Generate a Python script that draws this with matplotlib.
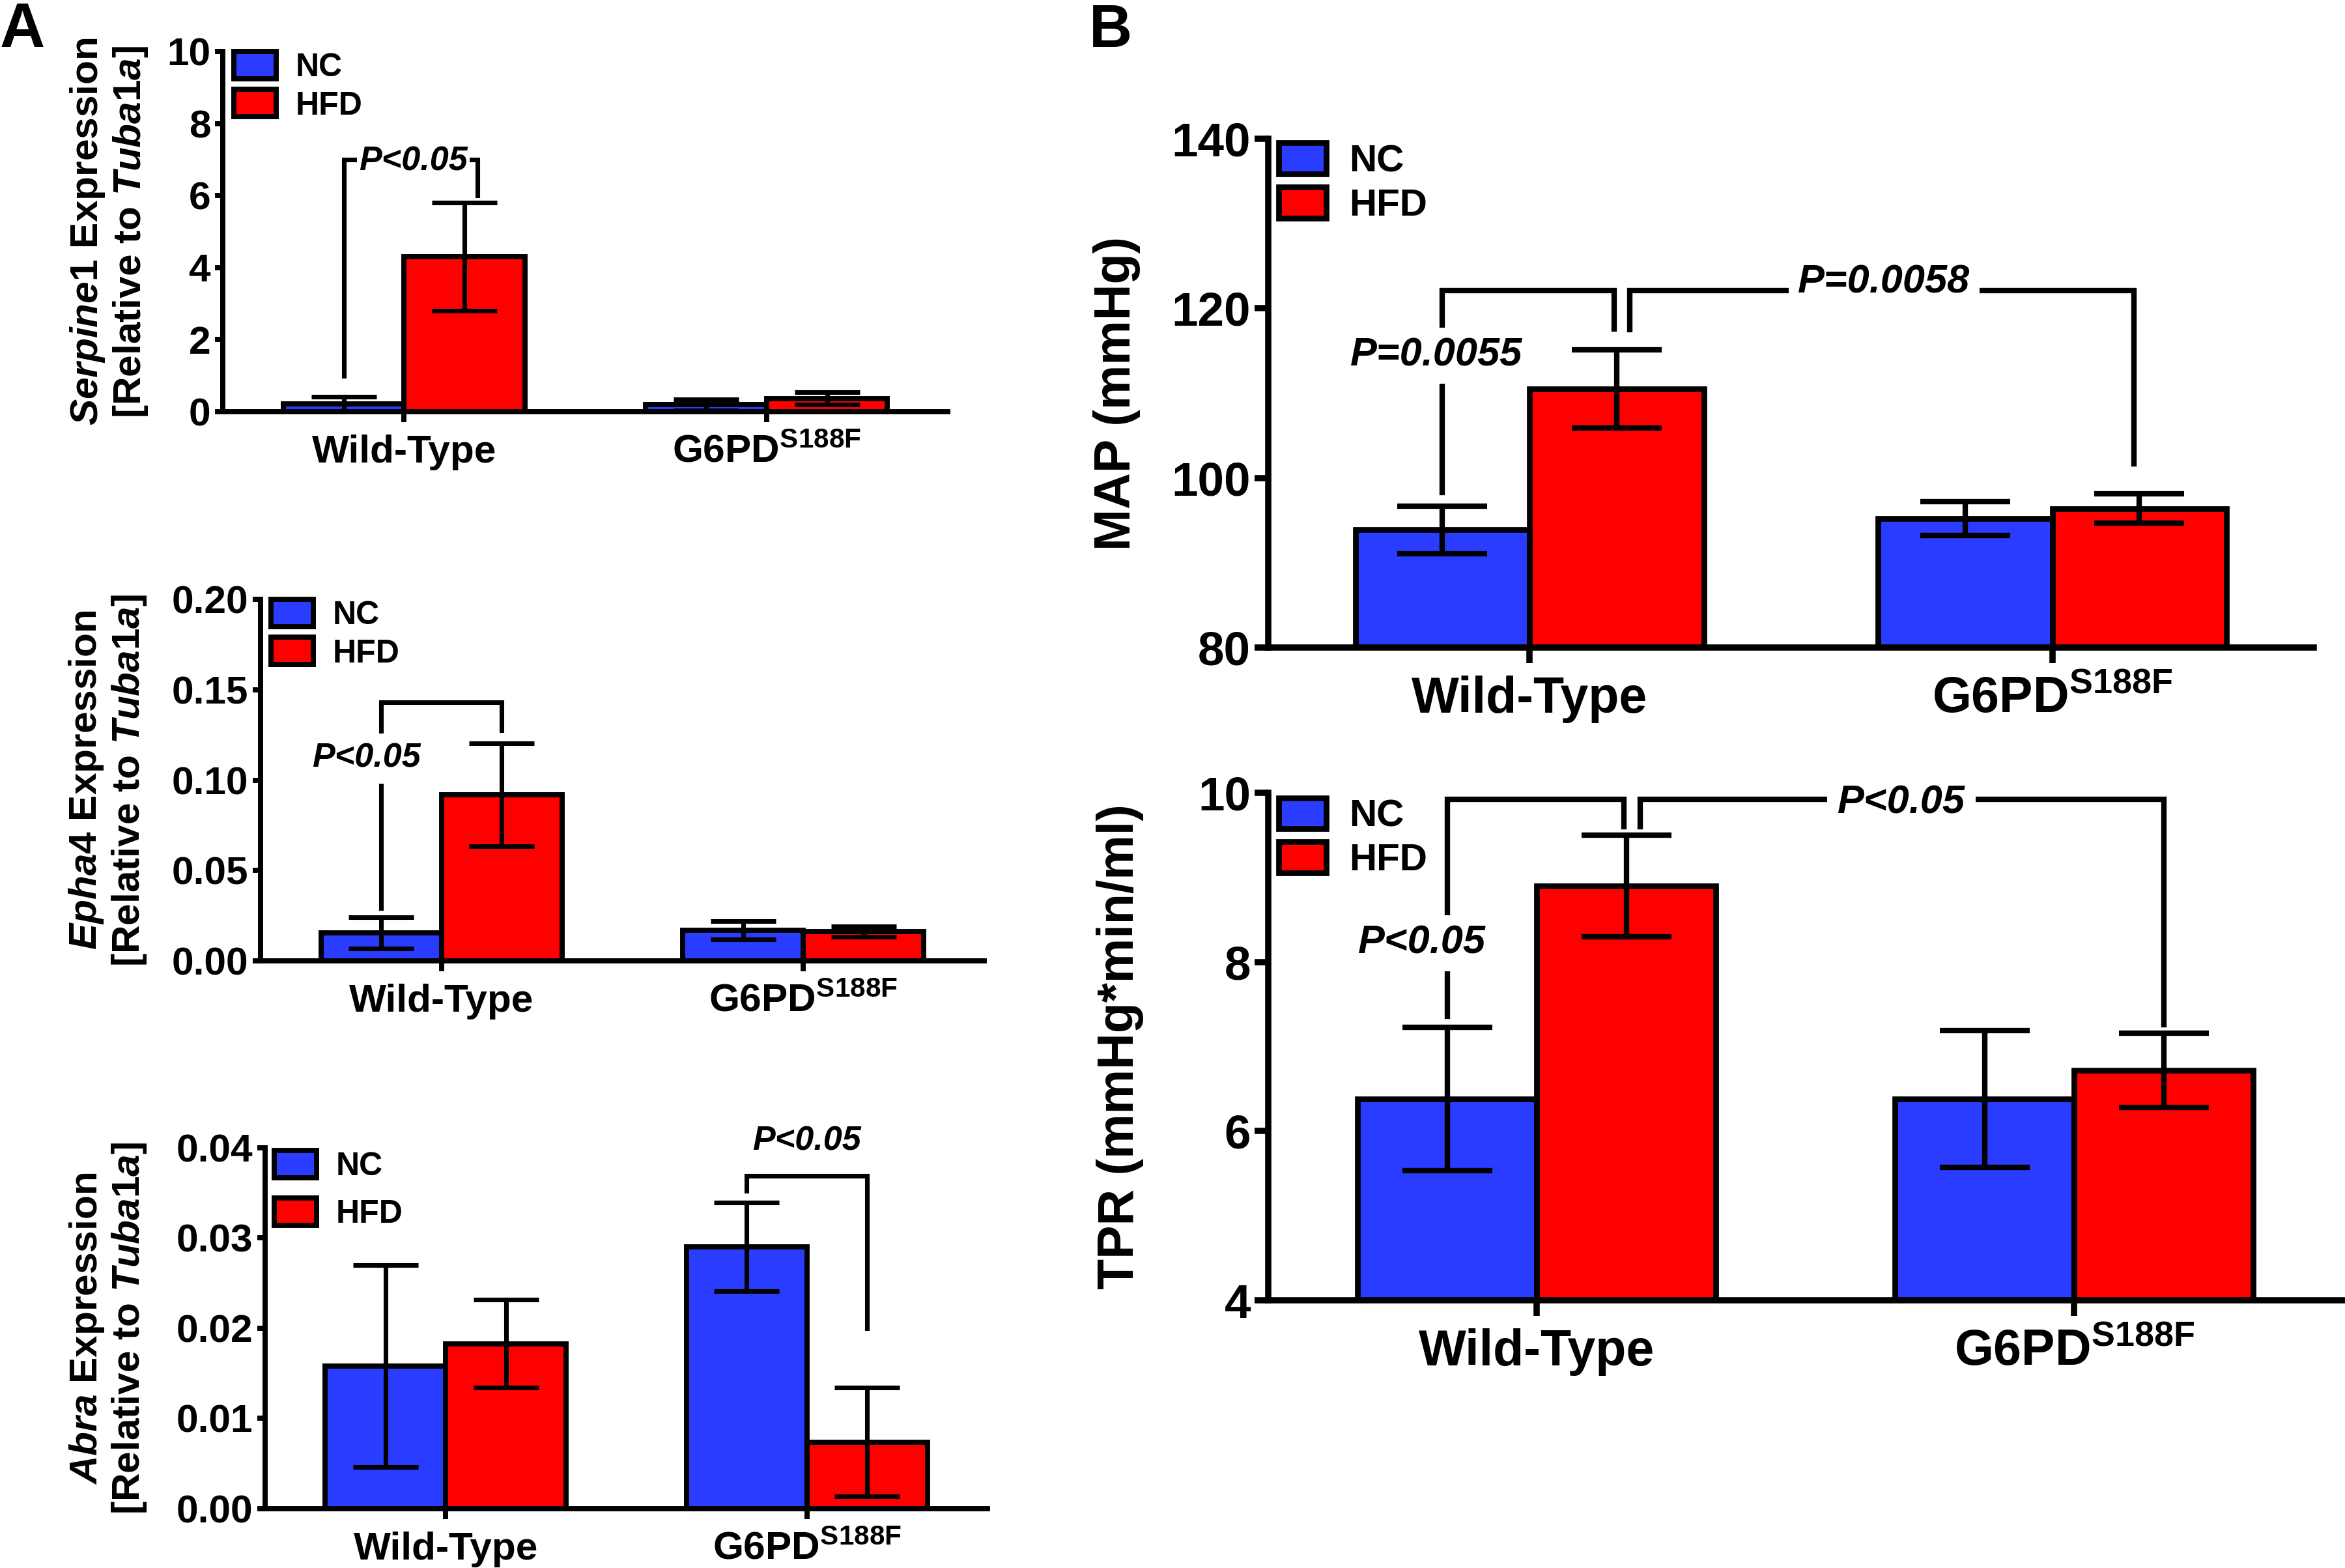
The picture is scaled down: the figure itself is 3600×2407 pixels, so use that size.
import numpy as np
import matplotlib.pyplot as plt
from matplotlib.ticker import FormatStrFormatter

plt.rcParams['font.family'] = ['Liberation Sans', 'DejaVu Sans']
plt.rcParams['font.weight'] = 'bold'
plt.rcParams['mathtext.fontset'] = 'custom'
plt.rcParams['mathtext.rm'] = 'Liberation Sans:bold'
plt.rcParams['mathtext.bf'] = 'Liberation Sans:bold'
plt.rcParams['mathtext.it'] = 'Liberation Sans:italic:bold'

# data (mean, SEM)
groups = ['Wild-Type', r'G6PD$^{\mathrm{S188F}}$']
diets = ['NC', 'HFD']
blue = '#2a3cff'
red = '#ff0000'

serpine1_nc = [0.22, 0.19]
serpine1_nc_sem = [0.20, 0.16]
serpine1_hfd = [4.3, 0.37]
serpine1_hfd_sem = [1.5, 0.17]

epha4_nc = [0.0155, 0.017]
epha4_nc_sem = [0.0085, 0.005]
epha4_hfd = [0.092, 0.0162]
epha4_hfd_sem = [0.0285, 0.0028]

abra_nc = [0.0158, 0.029]
abra_nc_sem = [0.0112, 0.0049]
abra_hfd = [0.0183, 0.0074]
abra_hfd_sem = [0.0049, 0.006]

map_nc = [93.9, 95.2]
map_nc_sem = [2.8, 2.0]
map_hfd = [110.5, 96.4]
map_hfd_sem = [4.6, 1.7]

tpr_nc = [6.38, 6.38]
tpr_nc_sem = [0.85, 0.81]
tpr_hfd = [8.9, 6.72]
tpr_hfd_sem = [0.6, 0.44]

# significance brackets: (x_left, x_right, y_top, y_left_end, y_right_end, text, text_x, text_y, pad)
serpine1_sig = [(-1/6, 1/6 + 0.036, 7.0, 1.0, 6.0, 'P<0.05', 0.025, 6.95, 0.8)]
epha4_sig = [(-1/6, 1/6, 0.143, 0.0293, 0.1276, 'P<0.05', -0.208, 0.112, 3.4)]
abra_sig = [(5/6, 7/6, 0.0369, 0.0352, 0.020, 'P<0.05', 1.0, 0.0407, 0)]
map_sig = [(-1/6, 1/6 - 0.005, 122.1, 98.3, 117.6, 'P=0.0055', -0.179, 114.4, 3.6),
           (1/6 + 0.025, 7/6 - 0.01, 122.1, 117.5, 101.7, 'P=0.0058', 0.678, 123.0, 3.6)]
tpr_sig = [(-1/6, 1/6 - 0.005, 9.92, 7.36, 9.6, 'P<0.05', -0.214, 8.22, 3.6),
           (1/6 + 0.025, 7/6, 9.92, 9.6, 7.26, 'P<0.05', 0.678, 9.88, 3.8)]


def draw_panel(ax, nc, nc_sem, hfd, hfd_sem, ylim, yticks, fmt, ylabel, sig,
               big=False, label_x=-0.1, leg_anchor=(0.015, 1.0), leg_space=0.2):
    x = np.arange(len(groups))
    w = 1 / 3
    lw = 2.1 if big else 1.9
    elw = 2.0 if big else 1.7
    cap = 16.5 if big else 12
    fs_tick = 17.5 if big else 14.5
    fs_x = 18.5 if big else 14.5
    fs_leg = 14 if big else 12
    fs_p = 14.7 if big else 12.5

    ax.bar(x - w / 2, nc, w, color=blue, edgecolor='black', linewidth=lw, label=diets[0], zorder=2)
    ax.bar(x + w / 2, hfd, w, color=red, edgecolor='black', linewidth=lw, label=diets[1], zorder=2)
    for xs, m, e in [(x - w / 2, nc, nc_sem), (x + w / 2, hfd, hfd_sem)]:
        _, caps, bars = ax.errorbar(xs, m, yerr=e, fmt='none', ecolor='black', elinewidth=elw,
                                    capsize=cap, capthick=elw, zorder=3)
        for c in caps:
            c.set_solid_capstyle('round')

    ax.set_xlim(-0.5, 1.5)
    ax.set_ylim(*ylim)
    ax.set_yticks(yticks)
    ax.yaxis.set_major_formatter(FormatStrFormatter(fmt))
    ax.set_xticks(x)
    ax.set_xticklabels(groups, fontsize=fs_x)
    for s in ['top', 'right']:
        ax.spines[s].set_visible(False)
    for s in ['left', 'bottom']:
        ax.spines[s].set_linewidth(2.3 if big else 1.9)
    ax.tick_params(axis='y', length=5 if big else 3, width=2.3 if big else 1.9,
                   labelsize=fs_tick, pad=1.5)
    ax.tick_params(axis='x', length=5.8 if big else 3.8, width=2.3 if big else 1.9, pad=4.5)

    ax.set_ylabel(ylabel, fontsize=18.5 if big else 14.5, fontweight='bold', linespacing=1.15)
    ax.yaxis.set_label_coords(label_x, 0.5)

    ax.legend(loc='upper left', bbox_to_anchor=leg_anchor, frameon=False, fontsize=fs_leg,
              handlelength=1.3 if not big else 1.25, handleheight=0.92 if not big else 0.88,
              handletextpad=0.6, labelspacing=leg_space, borderpad=0, borderaxespad=0)

    for x1, x2, y, y1, y2, txt, tx, ty, pad in sig:
        ax.plot([x1, x1, x2, x2], [y1, y, y, y2], color='black', lw=elw, clip_on=False,
                solid_joinstyle='miter', zorder=4)
        ax.text(tx, ty, txt, ha='center', va='center', fontsize=fs_p, fontstyle='italic',
                fontweight='bold', zorder=5, clip_on=False,
                bbox=dict(facecolor='white', edgecolor='none', pad=pad) if pad > 0 else None)


fig = plt.figure(figsize=(12, 2407 / 300), dpi=300)

ax1 = fig.add_axes([0.0950, 0.73743, 0.3092, 0.22975])
draw_panel(ax1, serpine1_nc, serpine1_nc_sem, serpine1_hfd, serpine1_hfd_sem,
           (0, 10), [0, 2, 4, 6, 8, 10], '%d',
           '$\\mathit{Serpine1}$ Expression\n[Relative to $\\mathit{Tuba1a}$]', serpine1_sig,
           label_x=-0.101, leg_anchor=(0.015, 1.0))

ax2 = fig.add_axes([0.1111, 0.38720, 0.3086, 0.23058])
draw_panel(ax2, epha4_nc, epha4_nc_sem, epha4_hfd, epha4_hfd_sem,
           (0, 0.20), [0, 0.05, 0.10, 0.15, 0.20], '%.2f',
           '$\\mathit{Epha4}$ Expression\n[Relative to $\\mathit{Tuba1a}$]', epha4_sig,
           label_x=-0.155, leg_anchor=(0.0144, 1.0))

ax3 = fig.add_axes([0.11306, 0.03781, 0.30806, 0.23016])
draw_panel(ax3, abra_nc, abra_nc_sem, abra_hfd, abra_hfd_sem,
           (0, 0.04), [0, 0.01, 0.02, 0.03, 0.04], '%.2f',
           '$\\mathit{Abra}$ Expression\n[Relative to $\\mathit{Tuba1a}$]', abra_sig,
           label_x=-0.161, leg_anchor=(0.0126, 0.993), leg_space=0.5)

ax4 = fig.add_axes([0.54083, 0.58704, 0.44583, 0.32447])
draw_panel(ax4, map_nc, map_nc_sem, map_hfd, map_hfd_sem,
           (80, 140), [80, 100, 120, 140], '%d', 'MAP (mmHg)', map_sig,
           big=True, label_x=-0.122, leg_anchor=(0.01, 0.992))

ax5 = fig.add_axes([0.54083, 0.17075, 0.45833, 0.32364])
draw_panel(ax5, tpr_nc, tpr_nc_sem, tpr_hfd, tpr_hfd_sem,
           (4, 10), [4, 6, 8, 10], '%d', 'TPR (mmHg*min/ml)', tpr_sig,
           big=True, label_x=-0.116, leg_anchor=(0.0097, 0.99))

fig.text(0.0, 0.999, 'A', fontsize=23, fontweight='bold', ha='left', va='top')
fig.text(0.4644, 0.998, 'B', fontsize=22, fontweight='bold', ha='left', va='top')

fig.savefig('out.png', dpi=300)
